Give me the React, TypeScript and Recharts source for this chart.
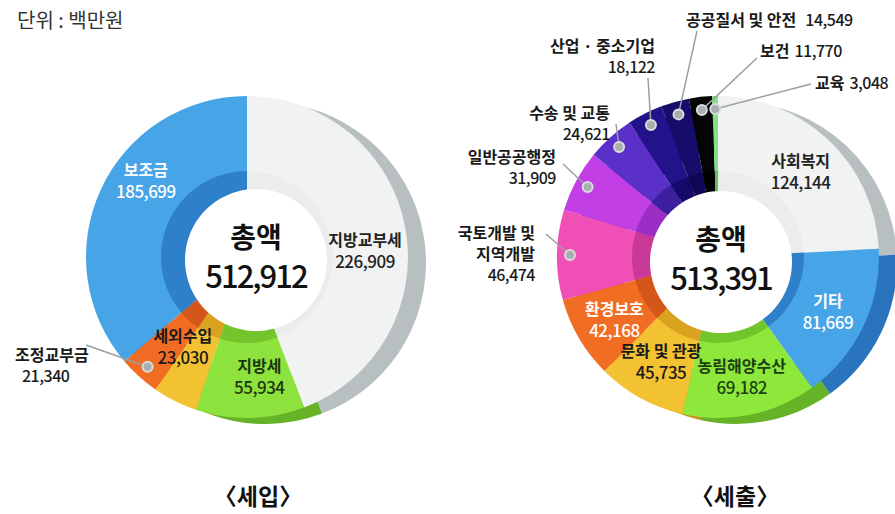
import React from 'react';
import { PieChart, Pie, Cell } from 'recharts';

// 세입 (revenue), 단위: 백만원
const revenueNames = ['지방교부세', '지방세', '세외수입', '조정교부금', '보조금'];
const revenueValues = [226909, 55934, 23030, 21340, 185699];
const revenueTotal = 512912;

// 세출 (expenditure)
const expenseNames = [
  '사회복지', '기타', '농림해양수산', '문화 및 관광', '환경보호', '국토개발 및\n지역개발',
  '일반공공행정', '수송 및 교통', '산업 · 중소기업', '공공질서 및 안전', '보건', '교육',
];
const expenseValues = [124144, 81669, 69182, 45735, 42168, 46474, 31909, 24621, 18122, 14549, 11770, 3048];
const expenseTotal = 513391;

const FONT = '"Noto Sans CJK KR", "Noto Sans", sans-serif';
const RAD = Math.PI / 180;
const fmt = (v: number) => v.toLocaleString('en-US');

type InLabel = { kind: 'in'; color: string; r?: number; dx?: number; dy?: number };
type OutLabel = {
  kind: 'out';
  x: number; y: number; anchor: 'start' | 'end';
  lx: number; ly: number; inline?: boolean; gap?: number;
};
type LabelStyle = InLabel | OutLabel;

const revenueMain = ['#f1f2f2', '#8ee23d', '#f3c232', '#f26d24', '#47a4e6'];
const revenueDark = ['#ebeded', '#74c52b', '#d9a21f', '#d4561a', '#2f80ca'];
const revenueShade = ['#b7bfc0', '#66b327', '#c79417', '#c0501a', '#2a74bd'];
const revenueLabels: LabelStyle[] = [
  { kind: 'in', color: '#222', r: 120, dy: 14 },
  { kind: 'in', color: '#1c3510', r: 118, dx: 10 },
  { kind: 'in', color: '#1a1a1a', r: 112, dx: -14, dy: -12 },
  { kind: 'out', x: 15, y: 361, anchor: 'start', lx: 86, ly: 345 },
  { kind: 'in', color: '#ffffff', r: 118, dx: 6, dy: -28 },
];

const expenseMain = [
  '#f1f2f2', '#47a4e6', '#8ee83c', '#f3c232', '#f26d24', '#f04fb6',
  '#c23fe6', '#5a30c8', '#23138a', '#160c6c', '#050505', '#7fe37f',
];
const expenseDark = [
  '#ebeded', '#2f80ca', '#72c52a', '#d9a21f', '#d4561a', '#c93a98',
  '#9a2ec5', '#3c1e9e', '#150a6a', '#0e0752', '#000000', '#5fc45f',
];
const expenseShade = [
  '#b7bfc0', '#2a74bd', '#66b327', '#c79417', '#c0501a', '#b8357f',
  '#8a28b0', '#331a8a', '#110858', '#0a0545', '#000000', '#55b055',
];
const expenseLabels: LabelStyle[] = [
  { kind: 'in', color: '#222', r: 120 },
  { kind: 'in', color: '#ffffff', r: 122 },
  { kind: 'in', color: '#1c3f10', r: 120 },
  { kind: 'in', color: '#1a1a1a', r: 118 },
  { kind: 'in', color: '#ffffff', r: 120 },
  { kind: 'out', x: 535, y: 239, anchor: 'end', lx: 546, ly: 234 },
  { kind: 'out', x: 556, y: 163, anchor: 'end', lx: 563, ly: 164 },
  { kind: 'out', x: 610, y: 119, anchor: 'end', lx: 616, ly: 124 },
  { kind: 'out', x: 655, y: 52, anchor: 'end', lx: 648, ly: 78 },
  { kind: 'out', x: 686, y: 26, anchor: 'start', lx: 697, ly: 31, inline: true, gap: 9 },
  { kind: 'out', x: 760, y: 57, anchor: 'start', lx: 757, ly: 58, inline: true, gap: 5 },
  { kind: 'out', x: 815, y: 89, anchor: 'start', lx: 811, ly: 84, inline: true, gap: 5 },
];

function makeLabel(styles: LabelStyle[]) {
  return (p: any) => {
    const { cx, cy, midAngle, index } = p;
    const s = styles[index];
    const name: string = p.payload?.name ?? p.name;
    const value = fmt(Number(p.payload?.value ?? p.value));
    const cos = Math.cos(-midAngle * RAD);
    const sin = Math.sin(-midAngle * RAD);
    if (s.kind === 'in') {
      const r = s.r ?? 120;
      const x = cx + r * cos + (s.dx ?? 0);
      const y = cy + r * sin + (s.dy ?? 0);
      return (
        <text key={`l-${index}`} x={x} y={y - 3} textAnchor="middle" fill={s.color} fontFamily={FONT} fontSize={16}>
          <tspan x={x} fontWeight={700}>{name}</tspan>
          <tspan x={x} dy={22} fontSize={17} fontWeight={500} letterSpacing={-0.5}>{value}</tspan>
        </text>
      );
    }
    const px = cx + 148 * cos;
    const py = cy + 148 * sin;
    const lines = name.split('\n');
    return (
      <g key={`l-${index}`} fontFamily={FONT}>
        <line x1={s.lx} y1={s.ly} x2={px} y2={py} stroke="#9a9fa2" strokeWidth={1.5} />
        <circle cx={px} cy={py} r={5} fill="#a9aeb1" stroke="#d9dcdd" strokeWidth={2} />
        {s.inline ? (
          <text x={s.x} y={s.y} textAnchor={s.anchor} fill="#1a1a1a" fontSize={16}>
            <tspan fontWeight={700}>{name}</tspan>
            <tspan dx={s.gap ?? 6} fontWeight={500} letterSpacing={-0.5}>{value}</tspan>
          </text>
        ) : (
          <text x={s.x} y={s.y} textAnchor={s.anchor} fill="#1a1a1a" fontSize={16}>
            {lines.map((ln, i) => (
              <tspan key={i} x={s.x} dy={i === 0 ? 0 : 21} fontWeight={700}>{ln}</tspan>
            ))}
            <tspan x={s.anchor === 'start' ? s.x + 7 : s.x} dy={21} fontWeight={500} letterSpacing={-0.5}>{value}</tspan>
          </text>
        )}
      </g>
    );
  };
}

function centerLabel(p: any) {
  const { cx, cy } = p;
  return (
    <text key="c" x={cx} y={cy - 12} textAnchor="middle" fill="#111" fontFamily={FONT} fontSize={28} fontWeight={700}>
      <tspan x={cx}>총액</tspan>
      <tspan x={cx} dy={40} fontSize={31} fontWeight={500} letterSpacing={-2}>
        {fmt(Number(p.payload?.value ?? p.value))}
      </tspan>
    </text>
  );
}

interface DonutProps {
  names: string[];
  values: number[];
  total: number;
  main: string[];
  dark: string[];
  shade: string[];
  labels: LabelStyle[];
  cx: number;
  cy: number;
  hole: [number, number];
}

function donut(k: string, d: DonutProps) {
  const data = d.names.map((name, i) => ({ name, value: d.values[i] }));
  const center = [{ name: '총액', value: d.total }];
  const common = { dataKey: 'value', startAngle: 90, endAngle: -270, stroke: 'none', isAnimationActive: false } as const;
  return [
    <Pie key={`${k}-shade`} {...common} data={data} cx={d.cx + 18} cy={d.cy + 6} innerRadius={114} outerRadius={161}>
      {data.map((_, i) => <Cell key={i} fill={d.shade[i]} />)}
    </Pie>,
    <Pie key={`${k}-main`} {...common} data={data} cx={d.cx} cy={d.cy} innerRadius={70} outerRadius={161}
      label={makeLabel(d.labels)} labelLine={false}>
      {data.map((_, i) => <Cell key={i} fill={d.main[i]} />)}
    </Pie>,
    <Pie key={`${k}-ring`} {...common} data={data} cx={d.cx} cy={d.cy} innerRadius={40} outerRadius={86}>
      {data.map((_, i) => <Cell key={i} fill={d.dark[i]} />)}
    </Pie>,
    <Pie key={`${k}-hole`} {...common} data={center} cx={d.cx + d.hole[0]} cy={d.cy + d.hole[1]} innerRadius={0} outerRadius={71}
      label={centerLabel} labelLine={false}>
      <Cell fill="#ffffff" />
    </Pie>,
  ];
}

export default function App() {
  return (
    <div style={{ position: 'absolute', left: 0, top: 0, width: 895, height: 514, background: '#fff', fontFamily: FONT }}>
      <div style={{ position: 'absolute', left: 17, top: 5, fontSize: 20, color: '#333' }}>단위 : 백만원</div>
      <PieChart width={895} height={514} margin={{ top: 0, right: 0, bottom: 0, left: 0 }}>
        {donut('in', {
          names: revenueNames, values: revenueValues, total: revenueTotal,
          main: revenueMain, dark: revenueDark, shade: revenueShade, labels: revenueLabels,
          cx: 247, cy: 257, hole: [9, 3],
        })}
        {donut('out', {
          names: expenseNames, values: expenseValues, total: expenseTotal,
          main: expenseMain, dark: expenseDark, shade: expenseShade, labels: expenseLabels,
          cx: 718, cy: 257, hole: [3, 5],
        })}
      </PieChart>
      <div style={{ position: 'absolute', left: 258, top: 478, transform: 'translateX(-50%)', fontSize: 23, fontWeight: 700, color: '#111' }}>〈세입〉</div>
      <div style={{ position: 'absolute', left: 735, top: 478, transform: 'translateX(-50%)', fontSize: 23, fontWeight: 700, color: '#111' }}>〈세출〉</div>
    </div>
  );
}
